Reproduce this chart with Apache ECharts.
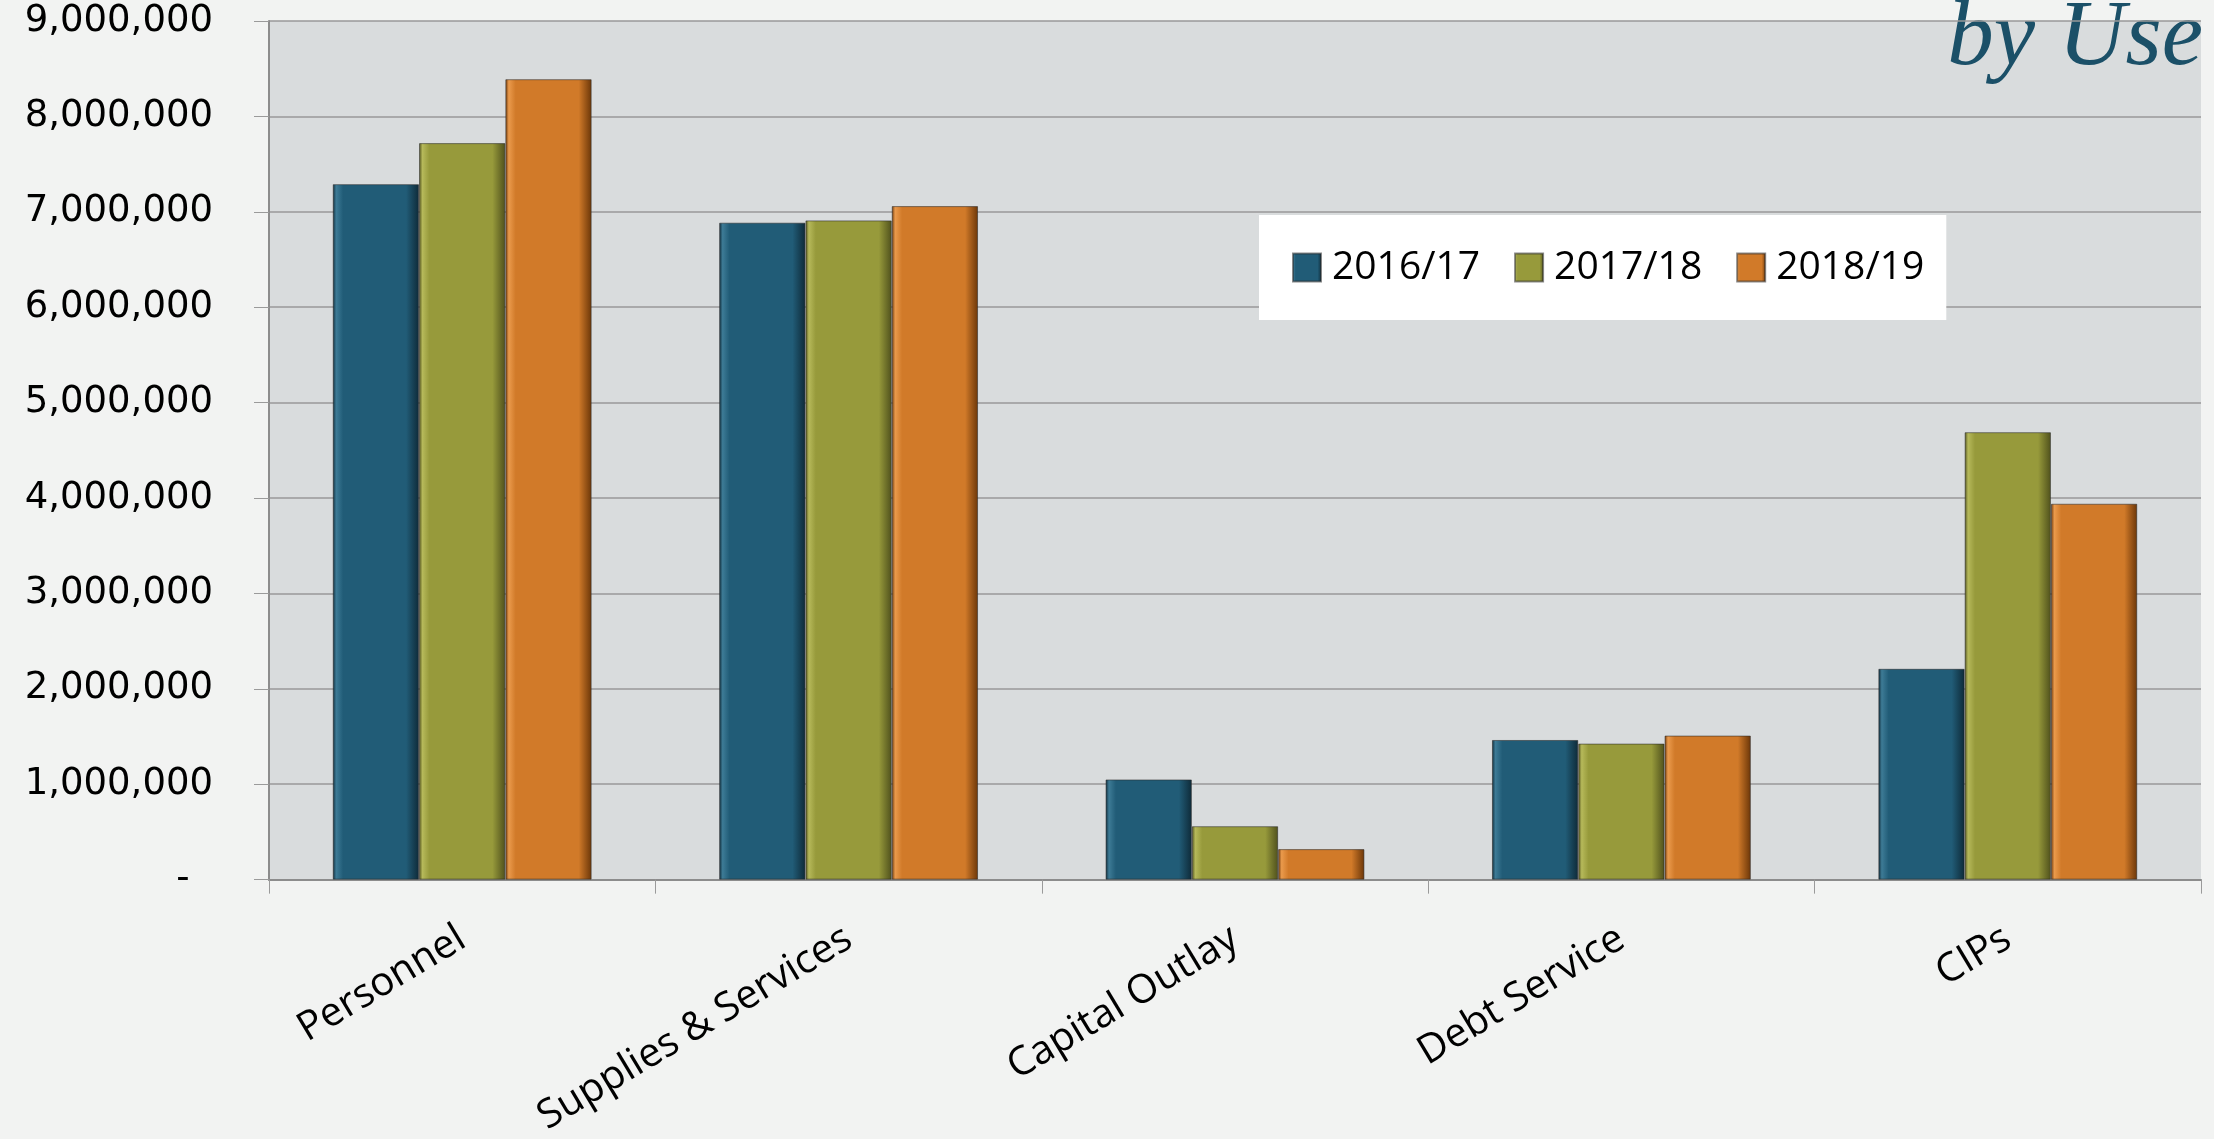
<!DOCTYPE html>
<html>
<head>
<meta charset="utf-8">
<script src="https://cdn.jsdelivr.net/npm/echarts@6/dist/echarts.min.js"></script>
<style>
  html, body { margin: 0; padding: 0; background: #f2f3f2; }
  #main { width: 2214px; height: 1139px; }
</style>
</head>
<body>
<div id="main"></div>
<script>
var categories = ['Personnel', 'Supplies & Services', 'Capital Outlay', 'Debt Service', 'CIPs'];
var seriesNames = ['2016/17', '2017/18', '2018/19'];
var fy1617 = [7290000, 6886000, 1050000, 1464000, 2210000];
var fy1718 = [7720000, 6910000, 560000, 1426000, 4690000];
var fy1819 = [8390000, 7060000, 320000, 1510000, 3940000];
var yTicks = [0, 1000000, 2000000, 3000000, 4000000, 5000000, 6000000, 7000000, 8000000, 9000000];

// bevel look: horizontal gradient, lighter left edge, dark right edge
function bevel(light, main, dark) {
  return new echarts.graphic.LinearGradient(0, 0, 1, 0, [
    { offset: 0, color: dark },
    { offset: 0.04, color: light },
    { offset: 0.12, color: main },
    { offset: 0.85, color: main },
    { offset: 1, color: dark }
  ]);
}

var myChart = echarts.init(document.getElementById('main'));

var option = {
  backgroundColor: '#f2f3f2',
  animation: false,
  grid: {
    left: 269, right: 13, top: 21, bottom: 258,
    show: true, backgroundColor: '#d9dcdd', borderWidth: 0
  },
  graphic: [{
    type: 'text',
    right: 11,
    top: -7,
    style: {
      text: 'by Use',
      fontFamily: 'Liberation Serif',
      fontStyle: 'italic',
      fontSize: 93,
      fill: '#1b5068'
    }
  }],
  legend: {
    data: seriesNames,
    left: 1259,
    top: 215,
    backgroundColor: '#ffffff',
    padding: [33, 22, 33, 33],
    itemWidth: 28,
    itemHeight: 28,
    itemGap: 34,
    icon: 'rect',
    textStyle: {
      fontFamily: 'Open Sans',
      fontSize: 39,
      color: '#000',
      padding: [0, 0, 0, 6]
    }
  },
  xAxis: {
    type: 'category',
    data: categories,
    axisLine: { lineStyle: { color: '#8c8c8c', width: 2 } },
    axisTick: { show: true, length: 14, lineStyle: { color: '#9a9a9a', width: 1 } },
    axisLabel: {
      rotate: 31,
      margin: 56,
      fontFamily: 'Open Sans',
      fontSize: 40,
      color: '#000'
    },
    splitLine: { show: false }
  },
  yAxis: {
    type: 'value',
    min: yTicks[0],
    max: yTicks[yTicks.length - 1],
    interval: yTicks[1] - yTicks[0],
    axisLine: { show: true, lineStyle: { color: '#8c8c8c', width: 2 } },
    axisTick: { show: true, length: 15, lineStyle: { color: '#9a9a9a', width: 1 } },
    axisLabel: {
      margin: 56,
      fontFamily: 'DejaVu Sans',
      fontSize: 37,
      color: '#000',
      formatter: function (v) {
        return v === 0 ? '-  ' : v.toLocaleString('en-US');
      }
    },
    splitLine: { lineStyle: { color: '#999999', width: 1.5 } }
  },
  series: [
    {
      name: seriesNames[0], type: 'bar', data: fy1617,
      barGap: '0%', barCategoryGap: '33%',
      itemStyle: { color: bevel('#3d7b96', '#215c77', '#0e2a38'), borderColor: 'rgba(40,40,40,0.55)', borderWidth: 1 }
    },
    {
      name: seriesNames[1], type: 'bar', data: fy1718,
      barGap: '0%', barCategoryGap: '33%',
      itemStyle: { color: bevel('#b6b95a', '#979a3b', '#4f501c'), borderColor: 'rgba(40,40,40,0.55)', borderWidth: 1 }
    },
    {
      name: seriesNames[2], type: 'bar', data: fy1819,
      barGap: '0%', barCategoryGap: '33%',
      itemStyle: { color: bevel('#ea9a4c', '#d17a29', '#6b3608'), borderColor: 'rgba(40,40,40,0.55)', borderWidth: 1 }
    }
  ]
};

myChart.setOption(option);
</script>
</body>
</html>
